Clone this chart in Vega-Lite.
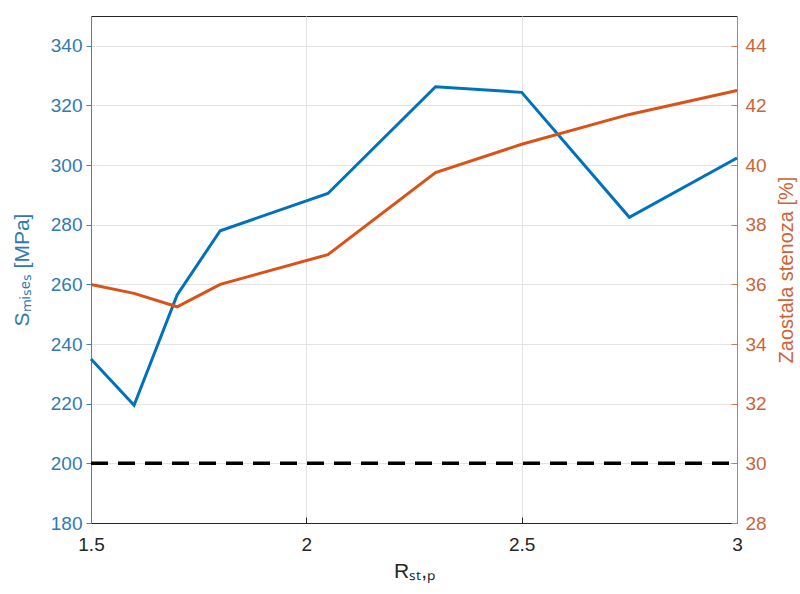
{
  "$schema": "https://vega.github.io/schema/vega-lite/v6.json",
  "width": 646,
  "height": 507,
  "autosize": {"type": "none"},
  "padding": {"left": 91, "top": 16, "right": 63, "bottom": 71},
  "background": "white",
  "config": {
    "view": {"stroke": "#262626", "strokeWidth": 1},
    "font": "Liberation Sans",
    "axis": {
      "labelFont": "Liberation Sans",
      "titleFont": "Liberation Sans",
      "labelFontSize": 19,
      "titleFontSize": 20,
      "titleFontWeight": "normal",
      "gridColor": "#e3e3e3",
      "gridWidth": 1
    }
  },
  "datasets": {
    "mises": [
      {"R": 1.5, "S": 235.0},
      {"R": 1.6, "S": 219.5},
      {"R": 1.7, "S": 256.5},
      {"R": 1.8, "S": 278.0},
      {"R": 2.05, "S": 290.5},
      {"R": 2.3, "S": 326.3},
      {"R": 2.5, "S": 324.4},
      {"R": 2.75, "S": 282.5},
      {"R": 3.0, "S": 302.4}
    ],
    "sten": [
      {"R": 1.5, "Z": 36.0},
      {"R": 1.6, "Z": 35.7},
      {"R": 1.7, "Z": 35.25},
      {"R": 1.8, "Z": 36.0},
      {"R": 2.05, "Z": 37.0},
      {"R": 2.3, "Z": 39.75},
      {"R": 2.5, "Z": 40.7},
      {"R": 2.75, "Z": 41.7},
      {"R": 3.0, "Z": 42.5}
    ],
    "limit": [
      {"R": 1.5, "S": 200},
      {"R": 3.0, "S": 200}
    ]
  },
  "layer": [
    {
      "layer": [
        {
          "data": {"name": "limit"},
          "mark": {"type": "line", "color": "#000000", "strokeWidth": 3.5, "strokeDash": [17, 10]},
          "encoding": {
            "x": {
              "field": "R", "type": "quantitative",
              "scale": {"domain": [1.5, 3], "nice": false, "zero": false},
              "axis": {
                "title": "Rₛₜ,ₚ",
                "titleFontSize": 21,
                "values": [1.5, 2, 2.5, 3],
                "format": "~r",
                "grid": true,
                "labelFlush": false,
                "domainColor": "#262626",
                "tickColor": "#262626",
                "tickSize": -6,
                "labelPadding": 18,
                "labelColor": "#262626",
                "titleColor": "#262626",
                "titlePadding": 6
              }
            },
            "y": {
              "field": "S", "type": "quantitative",
              "scale": {"domain": [180, 350], "nice": false, "zero": false},
              "axis": {
                "title": "Sₘᵢₛₑₛ [MPa]",
                "titleFontSize": 21,
                "values": [180, 200, 220, 240, 260, 280, 300, 320, 340],
                "format": "d",
                "grid": true,
                "labelFlush": false,
                "domainColor": "#3d86b8",
                "tickColor": "#3d86b8",
                "tickSize": 5,
                "labelPadding": 4,
                "labelColor": "#2f7bb0",
                "titleColor": "#2f7bb0",
                "titlePadding": 18
              }
            }
          }
        },
        {
          "data": {"name": "mises"},
          "mark": {"type": "line", "color": "#0072BD", "strokeWidth": 3},
          "encoding": {
            "x": {"field": "R", "type": "quantitative"},
            "y": {"field": "S", "type": "quantitative"}
          }
        }
      ]
    },
    {
      "data": {"name": "sten"},
      "mark": {"type": "line", "color": "#D95319", "strokeWidth": 3},
      "encoding": {
        "x": {"field": "R", "type": "quantitative"},
        "y": {
          "field": "Z", "type": "quantitative",
          "scale": {"domain": [28, 45], "nice": false, "zero": false},
          "axis": {
            "orient": "right",
            "title": "Zaostala stenoza [%]",
            "titleAngle": 270,
            "titleBaseline": "top",
            "values": [28, 30, 32, 34, 36, 38, 40, 42, 44],
            "format": "d",
            "grid": false,
            "labelFlush": false,
            "domainColor": "#cf7a50",
            "tickColor": "#cf7a50",
            "tickSize": -6,
            "labelPadding": 14,
            "labelColor": "#cc6438",
            "titleColor": "#cc6438",
            "titlePadding": 10
          }
        }
      }
    }
  ],
  "resolve": {"scale": {"y": "independent"}, "axis": {"y": "independent"}}
}
